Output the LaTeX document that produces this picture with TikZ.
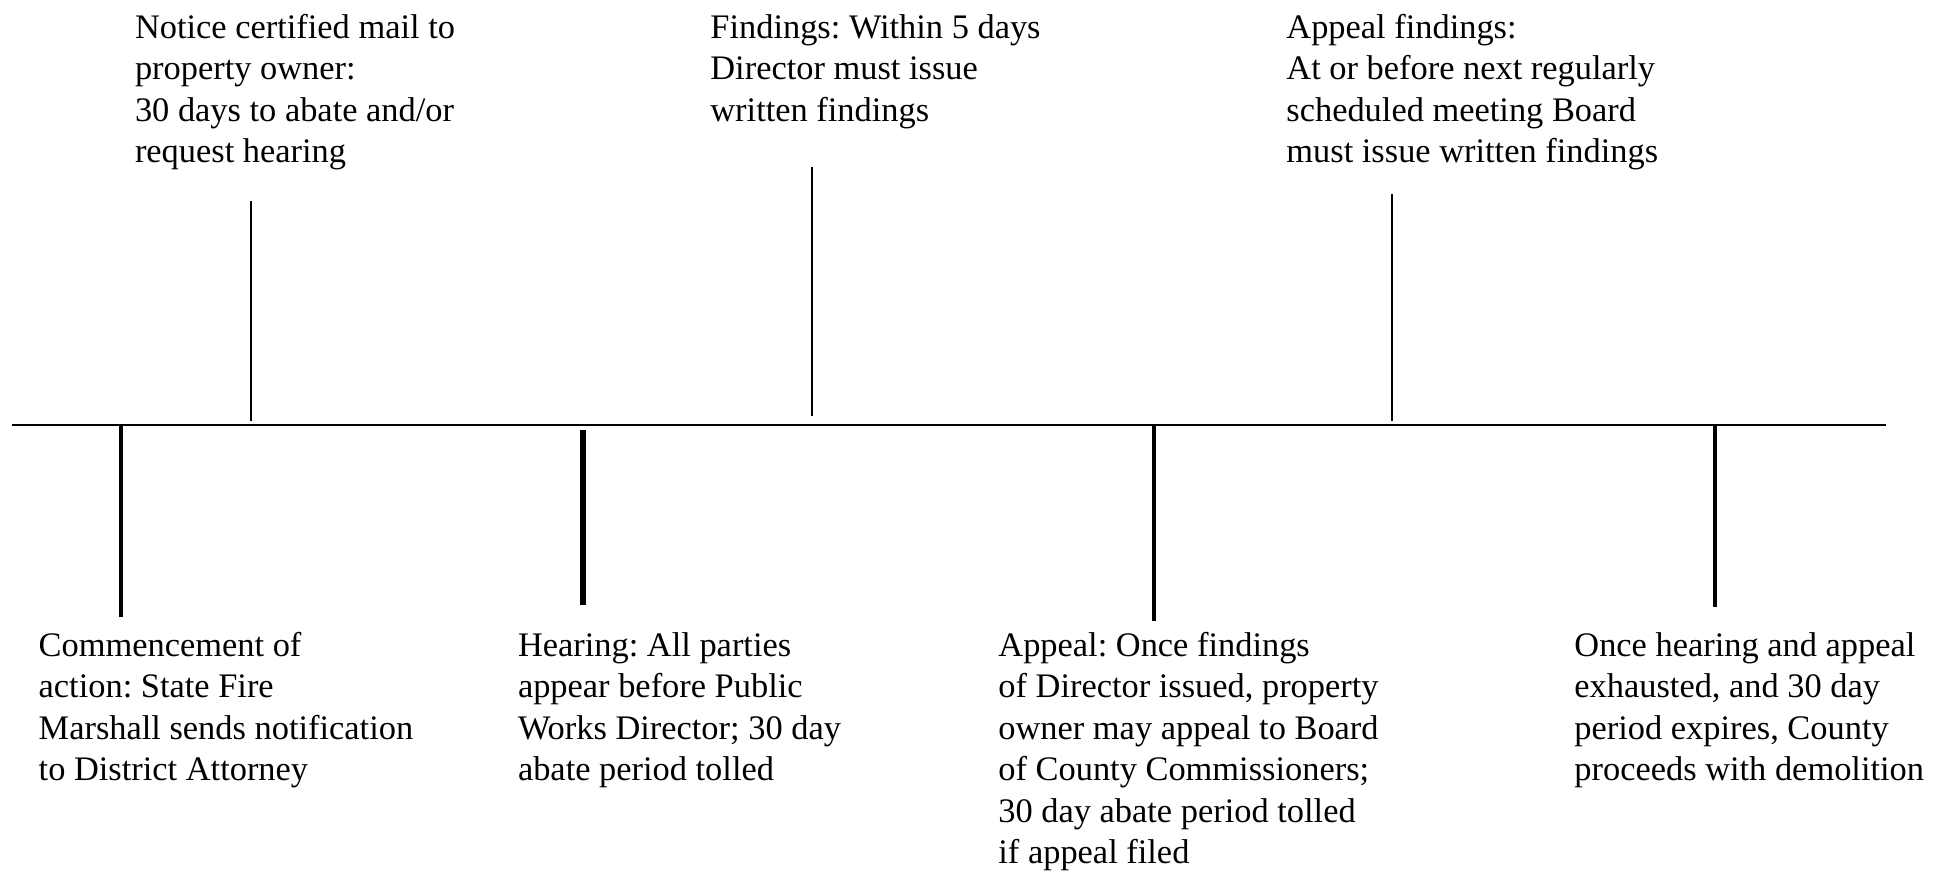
\documentclass[tikz,border=0pt]{standalone}
\usepackage{fontspec}
\setmainfont{Liberation Serif}
\frenchspacing
\begin{document}
\begin{tikzpicture}[x=0.5pt,y=-0.5pt,
  lbl/.style={anchor=north west,inner sep=0pt,align=left,font=\fontsize{17.2}{20.7}\selectfont\frenchspacing},
  mainline/.style={line width=1.3pt},
  thinline/.style={line width=0.6pt},
  thickline/.style={line width=1.6pt},
  heavyline/.style={line width=2.6pt}]
\useasboundingbox (0,0) rectangle (1937,872);
% timeline
\coordinate (L) at (12,425);
\coordinate (R) at (1886,425);
\draw[mainline] (L) -- (R);
% upward thin markers
\coordinate (u1a) at (251,421); \coordinate (u1b) at (251,201);
\coordinate (u2a) at (812,416); \coordinate (u2b) at (812,167);
\coordinate (u3a) at (1392,421); \coordinate (u3b) at (1392,194);
\draw[thinline] (u1a) -- (u1b);
\draw[thinline] (u2a) -- (u2b);
\draw[thinline] (u3a) -- (u3b);
% downward markers
\coordinate (d1a) at (121,426); \coordinate (d1b) at (121,617);
\coordinate (d2a) at (583,430); \coordinate (d2b) at (583,605);
\coordinate (d3a) at (1154,426); \coordinate (d3b) at (1154,621);
\coordinate (d4a) at (1715,426); \coordinate (d4b) at (1715,607);
\draw[thickline] (d1a) -- (d1b);
\draw[heavyline] (d2a) -- (d2b);
\draw[thickline] (d3a) -- (d3b);
\draw[thickline] (d4a) -- (d4b);
% top labels
\node[lbl] (notice) at (134.6,10) {\rule{0pt}{14pt}Notice certified mail to\\property owner:\\30 days to abate and/or\\request hearing};
\node[lbl] (findings) at (710,10) {\rule{0pt}{14pt}Findings: Within 5 days\\Director must issue\\written findings};
\node[lbl] (appealf) at (1286,10) {\rule{0pt}{14pt}Appeal findings:\\At or before next regularly\\scheduled meeting Board\\must issue written findings};
% bottom labels
\node[lbl] (commence) at (38.3,628) {\rule{0pt}{14pt}Commencement of\\action: State Fire\\Marshall sends notification\\to District Attorney};
\node[lbl] (hearing) at (517.6,628) {\rule{0pt}{14pt}Hearing: All parties\\appear before Public\\Works Director; 30 day\\abate period tolled};
\node[lbl] (appeal) at (998,628) {\rule{0pt}{14pt}Appeal: Once findings\\of Director issued, property\\owner may appeal to Board\\of County Commissioners;\\30 day abate period tolled\\if appeal filed};
\node[lbl] (demol) at (1574,628) {\rule{0pt}{14pt}Once hearing and appeal\\exhausted, and 30 day\\period expires, County\\proceeds with demolition};
\end{tikzpicture}
\end{document}
